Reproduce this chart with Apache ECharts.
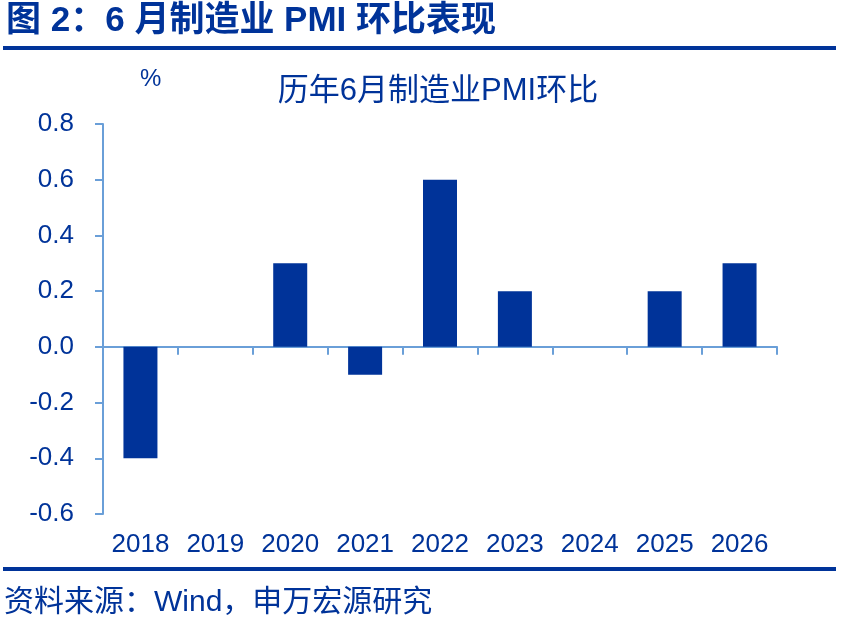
<!DOCTYPE html>
<html>
<head>
<meta charset="utf-8">
<script src="https://cdn.jsdelivr.net/npm/echarts@6/dist/echarts.min.js"></script>
<style>
  html, body { margin: 0; padding: 0; background: #fff; }
  #chart { width: 848px; height: 632px; }
</style>
</head>
<body>
<div id="chart"></div>
<script>
var years = ['2018', '2019', '2020', '2021', '2022', '2023', '2024', '2025', '2026'];
var pmiMoM = [-0.4, 0, 0.3, -0.1, 0.6, 0.2, 0, 0.2, 0.3];

var dark = '#003399';
var axisBlue = '#6A9FD8';
var fontFam = '"Liberation Sans", Arial, "Noto Sans CJK SC", sans-serif';

var chart = echarts.init(document.getElementById('chart'));

var option = {
  animation: false,
  textStyle: { fontFamily: fontFam },
  title: {
    text: '历年6月制造业PMI环比',
    left: 433,
    top: 71,
    textAlign: 'center',
    textStyle: { color: dark, fontSize: 31, fontWeight: 'normal', fontFamily: fontFam }
  },
  graphic: [
    { type: 'text', left: 6, top: 4, style: { text: '图 2：6 月制造业 PMI 环比表现', fill: dark, font: 'bold 35px ' + fontFam } },
    { type: 'rect', shape: { x: 3, y: 46, width: 833, height: 4 }, style: { fill: dark } },
    { type: 'rect', shape: { x: 3, y: 567, width: 833, height: 4 }, style: { fill: dark } },
    { type: 'text', left: 4, top: 588, style: { text: '资料来源：Wind，申万宏源研究', fill: dark, font: '30px ' + fontFam } },
    { type: 'text', left: 140, top: 67, style: { text: '%', fill: dark, font: '24px ' + fontFam } }
  ],
  grid: { left: 103, right: 71, top: 124, bottom: 118 },
  xAxis: [
    {
      type: 'category',
      data: years,
      axisLine: { onZero: true, lineStyle: { color: axisBlue, width: 2 } },
      axisTick: { show: true, length: 8, lineStyle: { color: axisBlue, width: 2 } },
      axisLabel: { show: false }
    },
    {
      type: 'category',
      data: years,
      position: 'bottom',
      axisLine: { show: false, onZero: false },
      axisTick: { show: false },
      axisLabel: { color: dark, fontSize: 26, margin: 18, interval: 0, hideOverlap: false }
    }
  ],
  yAxis: {
    type: 'value',
    min: -0.6,
    max: 0.8,
    interval: 0.2,
    splitLine: { show: false },
    axisLine: { show: true, lineStyle: { color: axisBlue, width: 2 } },
    axisTick: { show: true, length: 8, lineStyle: { color: axisBlue, width: 2 } },
    axisLabel: {
      color: dark,
      fontSize: 26,
      margin: 29,
      formatter: function (v) { return v.toFixed(1); }
    }
  },
  series: [
    {
      type: 'bar',
      data: pmiMoM,
      barWidth: 34,
      itemStyle: { color: dark }
    }
  ]
};

chart.setOption(option);
</script>
</body>
</html>
